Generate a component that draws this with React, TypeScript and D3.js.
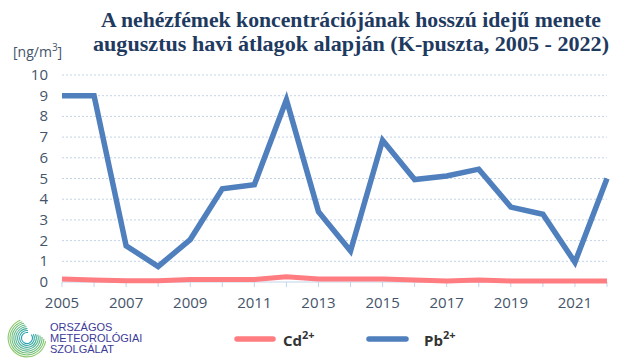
import React from "react";
import * as d3 from "d3";

const years = [2005, 2006, 2007, 2008, 2009, 2010, 2011, 2012, 2013, 2014, 2015, 2016, 2017, 2018, 2019, 2020, 2021, 2022];
const pb = [9.0, 9.0, 1.75, 0.75, 2.05, 4.5, 4.7, 8.8, 3.4, 1.5, 6.85, 4.95, 5.12, 5.45, 3.62, 3.27, 0.95, 5.0];
const cd = [0.15, 0.1, 0.06, 0.06, 0.12, 0.12, 0.12, 0.25, 0.15, 0.15, 0.15, 0.1, 0.05, 0.1, 0.05, 0.05, 0.05, 0.05];
const yTicks = [0, 1, 2, 3, 4, 5, 6, 7, 8, 9, 10];
const xLabels = [2005, 2007, 2009, 2011, 2013, 2015, 2017, 2019, 2021];
const titleLines = [
  "A nehézfémek koncentrációjának hosszú idejű menete",
  "augusztus havi átlagok alapján (K-puszta, 2005 - 2022)",
];
const logoLines = ["ORSZÁGOS", "METEOROLÓGIAI", "SZOLGÁLAT"];

const PB_COLOR = "#4f7fbc";
const CD_COLOR = "#ff7c80";
const TEXT = "#44546a";

export default function App() {
  const x = d3.scaleLinear().domain([2005, 2022]).range([62, 607]);
  const y = d3.scaleLinear().domain([0, 10]).range([282, 75]);
  const line = d3
    .line<number>()
    .x((_, i) => x(years[i]))
    .y((d) => y(d));

  const arcs = d3.range(8).map((i) => 5 + i * 1.9);

  return (
    <svg
      width={640}
      height={360}
      style={{ position: "absolute", left: 0, top: 0, background: "#fff" }}
      fontFamily="Open Sans, Lato, sans-serif"
    >
      <rect width={640} height={360} fill="#fff" />
      {titleLines.map((t, i) => (
        <text
          key={i}
          x={351}
          y={27 + i * 24}
          textAnchor="middle"
          fontFamily="Liberation Serif, serif"
          fontWeight="bold"
          fontSize={21}
          fill="#1f3a5f"
          textLength={i === 0 ? 500 : 516}
          lengthAdjust="spacingAndGlyphs"
        >
          {t}
        </text>
      ))}
      <text x={13} y={57} fontSize={14} fill={TEXT}>
        [ng/m<tspan dy={-6} fontSize={10}>3</tspan>
        <tspan dy={6}>]</tspan>
      </text>
      {yTicks.map((t) => (
        <g key={t}>
          {t > 0 && (
            <line
              x1={62}
              x2={607}
              y1={y(t)}
              y2={y(t)}
              stroke="#c3d3e8"
              strokeWidth={1}
              strokeDasharray="2,2"
            />
          )}
          <text x={48} y={y(t) + 5} textAnchor="end" fontSize={15} fill={TEXT}>
            {t}
          </text>
        </g>
      ))}
      <line x1={62} x2={607} y1={y(0)} y2={y(0)} stroke="#c3d3e8" strokeWidth={1} />
      {years.map((yr) => (
        <line key={yr} x1={x(yr)} x2={x(yr)} y1={y(0)} y2={y(0) + 5} stroke="#c3d3e8" strokeWidth={1} />
      ))}
      {xLabels.map((yr) => (
        <text key={yr} x={x(yr)} y={308} textAnchor="middle" fontSize={15} fill={TEXT}>
          {yr}
        </text>
      ))}
      <path d={line(cd) || ""} fill="none" stroke={CD_COLOR} strokeWidth={5} strokeLinejoin="miter" />
      <path d={line(pb) || ""} fill="none" stroke={PB_COLOR} strokeWidth={5.5} strokeLinejoin="miter" />

      <line x1={237} x2={273} y1={339} y2={339} stroke={CD_COLOR} strokeWidth={5.5} strokeLinecap="round" />
      <text x={283} y={346} fontSize={15} fontWeight="bold" fill="#333">
        Cd<tspan dy={-7} fontSize={11}>2+</tspan>
      </text>
      <line x1={369} x2={406} y1={339} y2={339} stroke={PB_COLOR} strokeWidth={5.5} strokeLinecap="round" />
      <text x={424} y={346} fontSize={15} fontWeight="bold" fill="#333">
        Pb<tspan dy={-7} fontSize={11}>2+</tspan>
      </text>

      <g transform="translate(27,338)">
        {arcs.map((r, i) => (
          <path
            key={i}
            d={d3.arc()({ innerRadius: r, outerRadius: r + 1.1, startAngle: 0.9 + i * 0.12, endAngle: 2 * Math.PI + 0.2 - i * 0.08 } as any) || ""}
            fill={d3.interpolateRgb("#2aa3b0", "#8cc86a")(i / 7)}
          />
        ))}
      </g>
      {logoLines.map((t, i) => (
        <text key={t} x={50} y={331 + i * 11} fontSize={11} fill="#3c3a98" fontFamily="Liberation Sans, sans-serif">
          {t}
        </text>
      ))}
    </svg>
  );
}
